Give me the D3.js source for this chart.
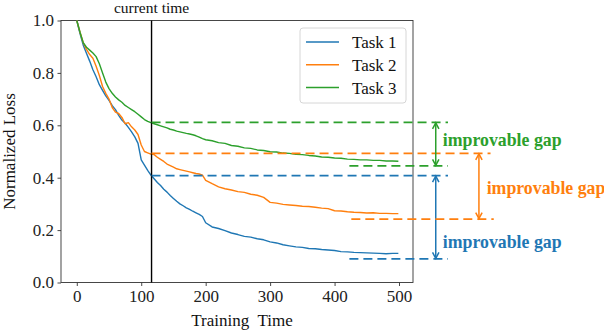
<!DOCTYPE html>
<html>
<head>
<meta charset="utf-8">
<script src="https://cdn.jsdelivr.net/npm/d3@7"></script>
<style>
  body { margin: 0; background: #fff; }
  svg { display: block; }
  svg text { font-family: "Liberation Serif", "DejaVu Serif", serif; }
</style>
</head>
<body>
<svg id="chart" width="604" height="332"></svg>
<script>
// ---- data ----
const steps = [0,5,10,15,20,25,30,35,40,45,50,55,60,65,70,75,80,85,90,95,
  100,105,110,115,120,125,130,135,140,145,150,155,160,165,170,175,180,185,190,195,
  200,210,220,230,240,250,260,270,280,290,300,310,320,330,340,350,360,370,380,390,
  400,410,420,430,440,450,460,470,480,490,499];
const task1 = [1.0,0.950,0.906,0.875,0.845,0.812,0.785,0.755,0.733,0.712,
  0.695,0.675,0.660,0.638,0.620,0.608,0.592,0.575,0.556,0.531,
  0.468,0.448,0.428,0.410,0.396,0.382,0.370,0.356,0.345,0.332,
  0.321,0.310,0.300,0.293,0.285,0.279,0.272,0.266,0.260,0.252,
  0.228,0.212,0.206,0.198,0.189,0.183,0.176,0.173,0.167,0.163,
  0.155,0.151,0.144,0.140,0.136,0.134,0.130,0.129,0.126,0.124,
  0.122,0.118,0.117,0.115,0.114,0.113,0.112,0.111,0.110,0.111,0.111];
const task2 = [1.0,0.955,0.915,0.890,0.870,0.856,0.825,0.790,0.748,0.722,
  0.700,0.668,0.650,0.645,0.630,0.606,0.610,0.594,0.582,0.565,
  0.525,0.500,0.495,0.490,0.488,0.478,0.470,0.462,0.452,0.446,
  0.440,0.434,0.431,0.428,0.425,0.422,0.419,0.416,0.414,0.410,
  0.390,0.377,0.365,0.358,0.353,0.347,0.344,0.337,0.333,0.325,
  0.306,0.303,0.298,0.296,0.294,0.291,0.290,0.287,0.284,0.282,
  0.274,0.273,0.270,0.268,0.267,0.265,0.266,0.264,0.264,0.263,0.263];
const task3 = [1.0,0.955,0.915,0.898,0.887,0.876,0.862,0.835,0.800,0.765,
  0.740,0.722,0.708,0.697,0.688,0.676,0.668,0.660,0.652,0.642,
  0.632,0.622,0.615,0.610,0.606,0.602,0.598,0.594,0.590,0.585,
  0.582,0.578,0.575,0.572,0.569,0.567,0.564,0.560,0.555,0.549,
  0.545,0.541,0.534,0.531,0.523,0.520,0.514,0.512,0.506,0.504,
  0.499,0.498,0.494,0.493,0.489,0.488,0.485,0.483,0.479,0.478,
  0.475,0.474,0.471,0.470,0.468,0.468,0.466,0.466,0.464,0.464,0.463];
const seriesNames = ["Task 1", "Task 2", "Task 3"];
const colors = ["#1f77b4", "#ff7f0e", "#2ca02c"];
const currentTime = 116;
const gapTop = [0.408, 0.493, 0.611];      // loss at current time
const gapBottom = [0.090, 0.242, 0.445];   // achievable loss
const topLineEnd = [576, 642, 576];        // time units (beyond axis)
const bottomLineStart = [423, 426, 423];
const bottomLineEnd = [576, 647, 576];
const arrowT = [557, 624, 557];
const labelT = [568, 636, 568];
const labelV = [0.155, 0.36, 0.545];
const xTicks = [0, 100, 200, 300, 400, 500];
const yTicks = [0.0, 0.2, 0.4, 0.6, 0.8, 1.0];

// ---- layout ----
const FONT = '"Liberation Serif", "DejaVu Serif", serif';
const svg = d3.select("#chart");
const L = 61, R = 413, T = 20.5, B = 282.5;
const x = d3.scaleLinear().domain([-24.5, 521.7]).range([L, R]);
const y = d3.scaleLinear().domain([0, 1]).range([B, T]);

const defs = svg.append("defs");
colors.forEach((c, i) => {
  defs.append("marker").attr("id", "ah" + i)
    .attr("viewBox", "-8 -5 10 10").attr("refX", 0).attr("refY", 0)
    .attr("markerWidth", 10).attr("markerHeight", 10)
    .attr("markerUnits", "userSpaceOnUse")
    .attr("orient", "auto-start-reverse")
    .append("path").attr("d", "M-6,-3.2 L0,0 L-6,3.2")
    .attr("fill", "none").attr("stroke", c).attr("stroke-width", 1.5);
});

// axes
const fontSize = 17;
const xAxis = svg.append("g").attr("transform", `translate(0,${B})`)
  .call(d3.axisBottom(x).tickValues(xTicks).tickSize(3.5).tickPadding(3.5).tickFormat(d3.format("d")));
const yAxis = svg.append("g").attr("transform", `translate(${L},0)`)
  .call(d3.axisLeft(y).tickValues(yTicks).tickSize(3.5).tickPadding(3.5).tickFormat(d3.format(".1f")));
[xAxis, yAxis].forEach(g => {
  g.attr("font-family", FONT);
  g.select(".domain").remove();
  g.selectAll("line").attr("stroke", "#333").attr("stroke-width", 0.9);
  g.selectAll("text").attr("font-size", fontSize).attr("fill", "#222");
});

// frame
svg.append("rect").attr("x", L).attr("y", T).attr("width", R - L).attr("height", B - T)
  .attr("fill", "none").attr("stroke", "#333").attr("stroke-width", 0.9);

// curves
const allSeries = [task1, task2, task3];
const line = d3.line().x((d, i) => x(steps[i])).y(d => y(d));
allSeries.forEach((s, i) => {
  svg.append("path").datum(s).attr("d", line)
    .attr("fill", "none").attr("stroke", colors[i]).attr("stroke-width", 1.4)
    .attr("stroke-linejoin", "round");
});

// current time line
svg.append("line").attr("x1", x(currentTime)).attr("x2", x(currentTime))
  .attr("y1", T).attr("y2", B).attr("stroke", "#000").attr("stroke-width", 1.4);
svg.append("text").attr("x", x(currentTime)).attr("y", 13).attr("text-anchor", "middle")
  .attr("font-size", 15.5).attr("fill", "#111").text("current time");

// gap dashed lines, arrows, labels
colors.forEach((c, i) => {
  svg.append("line").attr("x1", x(currentTime)).attr("x2", x(topLineEnd[i]))
    .attr("y1", y(gapTop[i])).attr("y2", y(gapTop[i]))
    .attr("stroke", c).attr("stroke-width", 1.8).attr("stroke-dasharray", "9,5");
  svg.append("line").attr("x1", x(bottomLineStart[i])).attr("x2", x(bottomLineEnd[i]))
    .attr("y1", y(gapBottom[i])).attr("y2", y(gapBottom[i]))
    .attr("stroke", c).attr("stroke-width", 1.8).attr("stroke-dasharray", "9,5");
  svg.append("line").attr("x1", x(arrowT[i])).attr("x2", x(arrowT[i]))
    .attr("y1", y(gapTop[i]) + 0.5).attr("y2", y(gapBottom[i]) - 0.5)
    .attr("stroke", c).attr("stroke-width", 1.5)
    .attr("marker-start", `url(#ah${i})`).attr("marker-end", `url(#ah${i})`);
  svg.append("text").attr("x", x(labelT[i])).attr("y", y(labelV[i]) + 6)
    .attr("font-size", 17.8).attr("font-weight", "bold").attr("fill", c)
    .text("improvable gap");
});

// legend
const lg = svg.append("g");
lg.append("rect").attr("x", 300).attr("y", 28).attr("width", 106).attr("height", 75)
  .attr("rx", 3).attr("fill", "#fff").attr("fill-opacity", 0.8)
  .attr("stroke", "#d6d6d6").attr("stroke-width", 1);
seriesNames.forEach((n, i) => {
  const cy = 42 + i * 22.8;
  lg.append("line").attr("x1", 306).attr("x2", 339).attr("y1", cy).attr("y2", cy)
    .attr("stroke", colors[i]).attr("stroke-width", 1.5);
  lg.append("text").attr("x", 352).attr("y", cy + 6).attr("font-size", 17).attr("fill", "#111").text(n);
});

// axis labels
svg.append("text").attr("x", (L + R) / 2 + 5).attr("y", 326).attr("text-anchor", "middle")
  .attr("font-size", 17).attr("fill", "#111").style("white-space", "pre")
  .text("Training  Time");
svg.append("text").attr("transform", `translate(15,${(T + B) / 2}) rotate(-90)`)
  .attr("text-anchor", "middle").attr("font-size", 17).attr("fill", "#111")
  .text("Normalized Loss");
</script>
</body>
</html>
